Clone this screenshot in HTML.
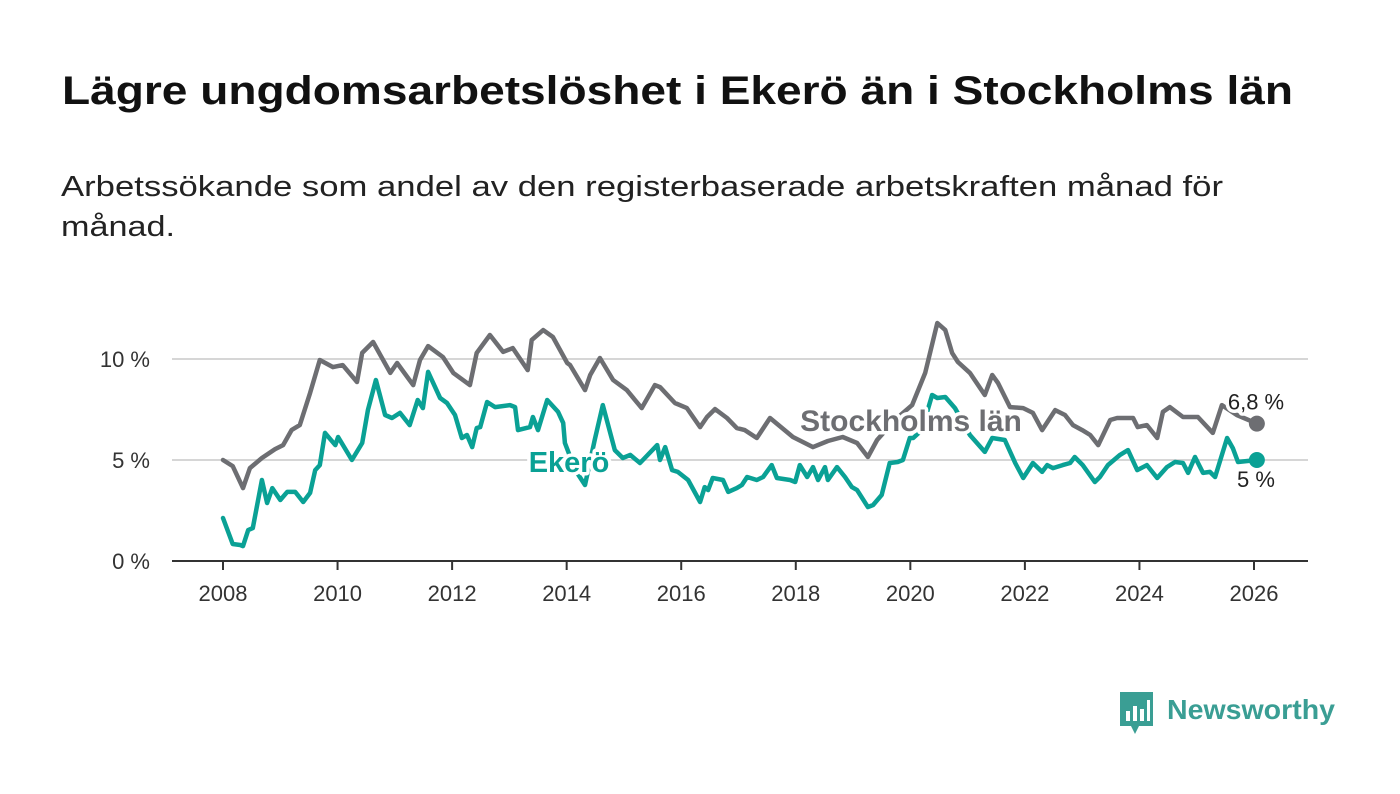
<!DOCTYPE html>
<html><head><meta charset="utf-8"><style>
html,body{margin:0;padding:0;background:#fff;}
svg{display:block;font-family:"Liberation Sans",sans-serif;}
</style></head><body>
<svg id="chart" width="1400" height="794" viewBox="0 0 1400 794">
<text x="62" y="104" font-size="40" font-weight="bold" fill="#111" textLength="1231" lengthAdjust="spacingAndGlyphs">Lägre ungdomsarbetslöshet i Ekerö än i Stockholms län</text>
<text x="61" y="196" font-size="29" fill="#222" textLength="1162" lengthAdjust="spacingAndGlyphs">Arbetssökande som andel av den registerbaserade arbetskraften månad för</text>
<text x="61" y="236" font-size="29" fill="#222" textLength="114" lengthAdjust="spacingAndGlyphs">månad.</text>
<g id="grid"></g>
<g id="axes"></g>
<g id="series"></g>
<g id="labels"></g>
<g>
<path d="M1120 692 h33 v34 h-14 l-4 8 l-4 -8 h-11 z" fill="#3a9e94"/>
<rect x="1126" y="711" width="4" height="10" fill="#fff"/>
<rect x="1133" y="706" width="4" height="15" fill="#fff"/>
<rect x="1140" y="709" width="4" height="12" fill="#fff"/>
<rect x="1147" y="700" width="3" height="21" fill="#fff"/>
<text x="1167" y="719" font-size="28" font-weight="bold" fill="#3a9e94" textLength="168" lengthAdjust="spacingAndGlyphs">Newsworthy</text>
</g>
</svg>
<script>
const yTicks = [0, 5, 10];
const yTickLabels = ["0 %", "5 %", "10 %"];
const xTicks = [2008, 2010, 2012, 2014, 2016, 2018, 2020, 2022, 2024, 2026];
const stockholmYears = [2008.00,2008.17,2008.35,2008.47,2008.68,2008.91,2009.05,2009.20,2009.34,2009.52,2009.69,2009.92,2010.09,2010.34,2010.43,2010.62,2010.92,2011.04,2011.32,2011.44,2011.58,2011.84,2012.02,2012.31,2012.43,2012.66,2012.89,2013.06,2013.32,2013.39,2013.59,2013.76,2014.01,2014.06,2014.32,2014.41,2014.58,2014.81,2015.05,2015.31,2015.54,2015.63,2015.89,2016.10,2016.33,2016.45,2016.59,2016.80,2016.97,2017.11,2017.32,2017.55,2017.95,2018.30,2018.56,2018.82,2019.07,2019.26,2019.42,2019.73,2020.03,2020.26,2020.47,2020.61,2020.73,2020.83,2021.04,2021.30,2021.43,2021.53,2021.74,2021.97,2022.14,2022.30,2022.53,2022.70,2022.84,2023.00,2023.14,2023.28,2023.49,2023.61,2023.89,2023.97,2024.13,2024.31,2024.41,2024.53,2024.76,2025.02,2025.28,2025.44,2025.70,2026.05];
const stockholmValues = [5.00,4.70,3.61,4.60,5.10,5.54,5.74,6.49,6.73,8.32,9.95,9.60,9.70,8.86,10.30,10.84,9.31,9.80,8.71,9.95,10.64,10.10,9.31,8.71,10.30,11.19,10.35,10.54,9.45,10.94,11.43,11.09,9.80,9.70,8.46,9.21,10.05,8.96,8.46,7.57,8.71,8.61,7.82,7.57,6.63,7.13,7.52,7.08,6.58,6.48,6.09,7.08,6.14,5.64,5.94,6.14,5.84,5.15,5.99,6.98,7.72,9.31,11.78,11.43,10.30,9.85,9.31,8.22,9.21,8.81,7.62,7.57,7.33,6.48,7.47,7.23,6.73,6.48,6.24,5.74,6.98,7.08,7.08,6.63,6.73,6.09,7.38,7.62,7.13,7.13,6.34,7.72,7.23,6.80];
const ekeroYears = [2008.00,2008.17,2008.30,2008.35,2008.44,2008.52,2008.68,2008.77,2008.86,2009.00,2009.12,2009.26,2009.40,2009.52,2009.61,2009.69,2009.78,2009.96,2010.01,2010.25,2010.43,2010.53,2010.67,2010.83,2010.95,2011.09,2011.26,2011.40,2011.49,2011.58,2011.79,2011.91,2012.05,2012.17,2012.26,2012.35,2012.43,2012.49,2012.61,2012.75,2013.01,2013.10,2013.15,2013.36,2013.41,2013.50,2013.66,2013.85,2013.94,2013.97,2014.15,2014.32,2014.49,2014.63,2014.84,2014.98,2015.11,2015.28,2015.58,2015.63,2015.72,2015.84,2015.94,2016.12,2016.33,2016.41,2016.47,2016.55,2016.73,2016.82,2016.97,2017.06,2017.15,2017.32,2017.43,2017.58,2017.67,2017.90,2017.99,2018.07,2018.20,2018.30,2018.39,2018.51,2018.56,2018.72,2018.86,2018.98,2019.07,2019.26,2019.35,2019.50,2019.64,2019.78,2019.87,2019.99,2020.05,2020.20,2020.38,2020.47,2020.61,2020.78,2021.04,2021.30,2021.43,2021.65,2021.83,2021.97,2022.14,2022.30,2022.39,2022.49,2022.66,2022.79,2022.87,2023.01,2023.22,2023.31,2023.45,2023.66,2023.80,2023.96,2024.13,2024.31,2024.48,2024.62,2024.76,2024.85,2024.97,2025.11,2025.23,2025.32,2025.53,2025.63,2025.72,2026.05];
const ekeroValues = [2.13,0.84,0.79,0.74,1.53,1.63,4.01,2.87,3.61,3.02,3.42,3.42,2.92,3.37,4.50,4.75,6.34,5.74,6.14,5.00,5.84,7.47,8.96,7.23,7.08,7.33,6.73,7.97,7.57,9.36,8.07,7.82,7.23,6.09,6.24,5.64,6.58,6.63,7.87,7.62,7.72,7.62,6.48,6.63,7.13,6.48,7.97,7.38,6.83,5.84,4.50,3.76,5.99,7.72,5.49,5.10,5.25,4.85,5.74,5.00,5.64,4.50,4.41,4.01,2.92,3.66,3.51,4.11,4.01,3.42,3.61,3.76,4.16,4.01,4.16,4.75,4.11,4.01,3.91,4.75,4.16,4.65,4.01,4.65,4.01,4.65,4.16,3.66,3.51,2.67,2.77,3.27,4.85,4.90,5.00,6.09,6.09,6.48,8.22,8.07,8.12,7.57,6.24,5.40,6.09,5.99,4.85,4.11,4.85,4.41,4.75,4.60,4.75,4.85,5.15,4.75,3.91,4.16,4.75,5.25,5.49,4.50,4.75,4.11,4.65,4.90,4.85,4.36,5.15,4.36,4.41,4.16,6.09,5.59,4.90,5.00];

const NS = "http://www.w3.org/2000/svg";
const X0 = 223, X1 = 1254, Y0 = 561, PXPCT = 20.2;
function xScale(yr){ return X0 + (yr - 2008) * (X1 - X0) / 18; }
function yScale(v){ return Y0 - v * PXPCT; }
function mk(tag, attrs, parent){ const e = document.createElementNS(NS, tag); for (const k in attrs) e.setAttribute(k, attrs[k]); parent.appendChild(e); return e; }

const grid = document.getElementById('grid');
const axes = document.getElementById('axes');
yTicks.forEach((t, i) => {
  if (t !== 0) {
    const gl = mk('line', {x1:172, x2:1308, y1:yScale(t), y2:yScale(t), stroke:'#d6d6d6', 'stroke-width':2}, grid);
    
    
  }
  const tl = mk('text', {x:150, y:yScale(t)+8, 'text-anchor':'end', 'font-size':22, fill:'#333'}, axes);
  tl.textContent = yTickLabels[i];
  
  
});
const base = mk('line', {x1:172, x2:1308, y1:Y0, y2:Y0, stroke:'#333', 'stroke-width':2}, axes);


xTicks.forEach(t => {
  const tk = mk('line', {x1:xScale(t), x2:xScale(t), y1:Y0, y2:Y0+9, stroke:'#333', 'stroke-width':2}, axes);
  
  
  const tl = mk('text', {x:xScale(t), y:601, 'text-anchor':'middle', 'font-size':22, fill:'#333'}, axes);
  tl.textContent = String(t);
  
  
});

const series = document.getElementById('series');
function drawLine(xs, vs, color, name){
  const d = xs.map((yr, i) => (i ? 'L' : 'M') + xScale(yr).toFixed(1) + ' ' + yScale(vs[i]).toFixed(1)).join(' ');
  const p = mk('path', {d:d, fill:'none', stroke:color, 'stroke-width':4.5, 'stroke-linejoin':'round', 'stroke-linecap':'round'}, series);
  
  
  const n = xs.length - 1;
  const c = mk('circle', {cx:xScale(xs[n]), cy:yScale(vs[n]), r:8, fill:color}, series);
  
  
}
drawLine(stockholmYears, stockholmValues, '#6d6e72', 'stockholm');
drawLine(ekeroYears, ekeroValues, '#0aa195', 'ekero');

const labels = document.getElementById('labels');
function lab(txt, x, y, size, color, weight, anchor, name){
  const t = mk('text', {x:x, y:y, 'font-size':size, fill:color, 'font-weight':weight, 'text-anchor':anchor, stroke:'#fff', 'stroke-width':7, 'paint-order':'stroke', 'stroke-linejoin':'round'}, labels);
  t.textContent = txt;
  
  
}
lab('Stockholms län', 911, 431, 30, '#6d6e72', 'bold', 'middle', 'stockholm-label');
lab('Ekerö', 569, 472, 29, '#0aa195', 'bold', 'middle', 'ekero-label');
const sn = stockholmValues.length - 1, en = ekeroValues.length - 1;
lab(stockholmValues[sn].toFixed(1).replace('.', ',') + ' %', 1256, yScale(stockholmValues[sn]) - 14, 22, '#222', 'normal', 'middle', 'stockholm-end-value');
lab(String(Math.round(ekeroValues[en]*10)/10).replace('.', ',') + ' %', 1256, yScale(ekeroValues[en]) + 27, 22, '#222', 'normal', 'middle', 'ekero-end-value');
</script>
</body></html>
